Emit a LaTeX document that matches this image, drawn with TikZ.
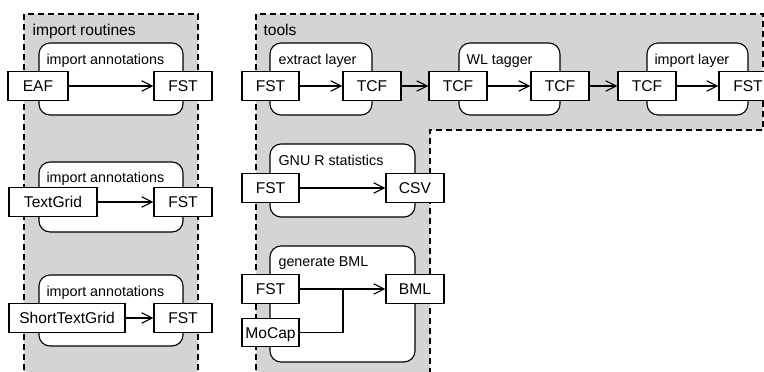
\documentclass[tikz,border=0pt]{standalone}
\usepackage{fontspec}
\setmainfont{Liberation Sans}
\usetikzlibrary{arrows.meta}
\definecolor{regiongray}{RGB}{212,212,212}
\newcommand\labelfont{\fontsize{14.3}{17}\selectfont}
\newcommand\datafont{\fontsize{15.6}{18}\selectfont}
\begin{document}
\begin{tikzpicture}[x=1pt,y=-1pt,line width=1.1pt,
  region/.style={fill=regiongray,draw=black,dash pattern=on 6pt off 4pt},
  proc/.style={draw,fill=white,rounded corners=11pt,inner sep=0pt},
  proclabel/.style={anchor=base west,inner sep=0pt,font=\labelfont},
  regiontitle/.style={anchor=base west,inner sep=0pt,font=\datafont},
  data/.style={draw,fill=white,minimum height=28.5pt,inner sep=0pt,text height=11.2pt,text depth=0pt,font=\datafont},
  flow/.style={-{Straight Barb[length=10.5pt,width=10.5pt]}}]
\useasboundingbox (0,0) rectangle (764,372);
\clip (0,0) rectangle (764,372);
% regions
\fill[regiongray] (24,14) rectangle (198,380);
\draw[region,fill=none] (24,380) -- (24,14) -- (198,14) -- (198,380);
\fill[regiongray] (256,380) -- (256,14) -- (763,14) -- (763,130) -- (430,130) -- (430,380) -- cycle;
\draw[region,fill=none] (256,380) -- (256,14) -- (763,14) -- (763,130) -- (430,130) -- (430,380);
\node[regiontitle] (titleA) at (32,35) {import routines};
\node[regiontitle] (titleB) at (263,35) {tools};
% import routines
\node[proc,minimum width=144pt,minimum height=72pt] (pA) at (111,79) {};
\node[proclabel] (lA) at (46,64) {import annotations};
\node[data,minimum width=60pt] (eaf) at (38,86) {EAF};
\node[data,minimum width=58pt] (fstA) at (183,86) {FST};
\draw[flow] (eaf) -- (fstA);

\node[proc,minimum width=144pt,minimum height=70pt] (pB) at (111,197) {};
\node[proclabel] (lB) at (46,182) {import annotations};
\node[data,minimum width=88pt] (tg) at (53,202) {TextGrid};
\node[data,minimum width=58pt] (fstB) at (183,202) {FST};
\draw[flow] (tg) -- (fstB);

\node[proc,minimum width=144pt,minimum height=71pt] (pC) at (111,310.5) {};
\node[proclabel] (lC) at (46,296) {import annotations};
\node[data,minimum width=116pt] (stg) at (67,318) {ShortTextGrid};
\node[data,minimum width=58pt] (fstC) at (183,318) {FST};
\draw[flow] (stg) -- (fstC);
% tools row 1
\node[proc,minimum width=102pt,minimum height=72pt] (pD) at (321,79) {};
\node[proclabel] (lD) at (278,64) {extract layer};
\node[proc,minimum width=101pt,minimum height=72pt] (pE) at (509.5,79) {};
\node[proclabel] (lE) at (466,64) {WL tagger};
\node[proc,minimum width=101pt,minimum height=72pt] (pF) at (697.5,79) {};
\node[proclabel] (lF) at (654,64) {import layer};
\node[data,minimum width=57pt] (fstD) at (270.5,86) {FST};
\node[data,minimum width=58pt] (tcfA) at (372,86) {TCF};
\node[data,minimum width=58pt] (tcfB) at (458,86) {TCF};
\node[data,minimum width=58pt] (tcfC) at (560,86) {TCF};
\node[data,minimum width=58pt] (tcfD) at (647,86) {TCF};
\node[data,minimum width=58pt] (fstE) at (748,86) {FST};
\draw[flow] (fstD) -- (tcfA);
\draw[flow] (tcfA) -- (tcfB);
\draw[flow] (tcfB) -- (tcfC);
\draw[flow] (tcfC) -- (tcfD);
\draw[flow] (tcfD) -- (fstE);
% GNU R
\node[proc,minimum width=145pt,minimum height=73pt] (pG) at (342.5,180.5) {};
\node[proclabel] (lG) at (278,165) {GNU R statistics};
\node[data,minimum width=57pt] (fstF) at (270.5,188) {FST};
\node[data,minimum width=58pt] (csv) at (415,188) {CSV};
\draw[flow] (fstF) -- (csv);
% generate BML
\node[proc,minimum width=145pt,minimum height=116pt] (pH) at (342.5,304) {};
\node[proclabel] (lH) at (278,266) {generate BML};
\node[data,minimum width=57pt] (fstG) at (270.5,289) {FST};
\node[data,minimum width=57pt] (mocap) at (270.5,332.5) {MoCap};
\node[data,minimum width=58pt] (bml) at (415,289) {BML};
\coordinate (join) at (343,289);
\draw[flow] (fstG) -- (bml);
\draw (mocap.east) -| (join);
\end{tikzpicture}
\end{document}
